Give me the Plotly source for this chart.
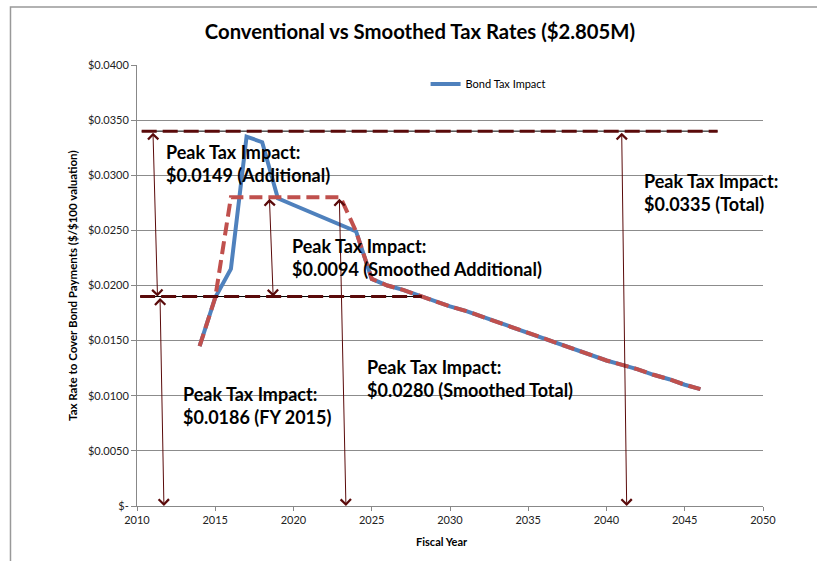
import plotly.graph_objects as go

# ---- data ----
years = list(range(2014, 2047))
conventional = [0.0145, 0.0189, 0.0215, 0.0335, 0.0330, 0.0279, 0.0273, 0.0267, 0.0261, 0.0255,
                0.0249, 0.0206, 0.0200, 0.0196, 0.0191, 0.0186, 0.0181, 0.0177, 0.0172, 0.0167,
                0.0162, 0.0157, 0.0152, 0.0147, 0.0142, 0.0137, 0.0132, 0.0128, 0.0124, 0.0119,
                0.0115, 0.0110, 0.0106]
smoothed = [0.0145, 0.0189, 0.0280, 0.0280, 0.0280, 0.0280, 0.0280, 0.0280, 0.0280, 0.0280,
            0.0249, 0.0206, 0.0200, 0.0196, 0.0191, 0.0186, 0.0181, 0.0177, 0.0172, 0.0167,
            0.0162, 0.0157, 0.0152, 0.0147, 0.0142, 0.0137, 0.0132, 0.0128, 0.0124, 0.0119,
            0.0115, 0.0110, 0.0106]

# horizontal peak reference lines: value, x-start, x-end
peak_values = [0.0340, 0.0190]
peak_x_start = [2010.3, 2010.2]
peak_x_end = [2047.1, 2028.2]

# double-headed arrows: (x1, y1, x2, y2)
arrow_x1 = [2011.02, 2011.47, 2018.46, 2022.93, 2040.97]
arrow_y1 = [0.0340, 0.0190, 0.0280, 0.0280, 0.0340]
arrow_x2 = [2011.31, 2011.72, 2018.70, 2023.35, 2041.29]
arrow_y2 = [0.0190, 0.0, 0.0190, 0.0, 0.0]

# text callouts
note_texts = ["Peak Tax Impact:<br>$0.0149 (Additional)",
              "Peak Tax Impact:<br>$0.0094 (Smoothed Additional)",
              "Peak Tax Impact:<br>$0.0335 (Total)",
              "Peak Tax Impact:<br>$0.0280 (Smoothed Total)",
              "Peak Tax Impact:<br>$0.0186 (FY 2015)"]
note_x = [2011.75, 2019.75, 2042.3, 2024.6, 2012.8]
note_y = [0.03110, 0.02255, 0.02846, 0.01156, 0.00913]

y_tickvals = [0, 0.005, 0.010, 0.015, 0.020, 0.025, 0.030, 0.035, 0.040]
y_ticktext = ["$-", "$0.0050", "$0.0100", "$0.0150", "$0.0200", "$0.0250", "$0.0300", "$0.0350", "$0.0400"]
x_tickvals = [2010, 2015, 2020, 2025, 2030, 2035, 2040, 2045, 2050]

FONT = "Lato, 'Open Sans', sans-serif"
MAROON = "#5a0a0a"

fig = go.Figure()
fig.add_trace(go.Scatter(x=years, y=conventional, mode="lines", name="Bond Tax Impact",
                         line=dict(color="#4f81bd", width=4), hoverinfo="skip"))
fig.add_trace(go.Scatter(x=years, y=smoothed, mode="lines", name="Smoothed", showlegend=False,
                         line=dict(color="#c0504d", width=4, dash="13px,6px"), hoverinfo="skip"))
for v, xs, xe in zip(peak_values, peak_x_start, peak_x_end):
    fig.add_trace(go.Scatter(x=[xs, xe], y=[v, v], mode="lines", showlegend=False,
                             line=dict(color="#000000", width=1), hoverinfo="skip"))
    fig.add_trace(go.Scatter(x=[xs, xe], y=[v, v], mode="lines", showlegend=False,
                             line=dict(color=MAROON, width=3, dash="15px,6px"), hoverinfo="skip"))

annotations = []
for x1, y1, x2, y2 in zip(arrow_x1, arrow_y1, arrow_x2, arrow_y2):
    annotations.append(dict(x=x2, y=y2, ax=x1, ay=y1, xref="x", yref="y", axref="x", ayref="y",
                            text="", showarrow=True, arrowhead=4, arrowside="end+start",
                            arrowsize=2, arrowwidth=1, arrowcolor=MAROON,
                            standoff=0, startstandoff=0))
for t, x, y in zip(note_texts, note_x, note_y):
    annotations.append(dict(x=x, y=y, xref="x", yref="y", text=t, showarrow=False,
                            xanchor="left", yanchor="middle", align="left",
                            font=dict(family=FONT, size=18, color="#000000", weight="bold")))
annotations.append(dict(x=-0.104, y=0.501, xref="paper", yref="paper", textangle=-90,
                        xanchor="center", yanchor="middle",
                        text="Tax Rate to Cover Bond Payments ($/$100 valuation)", showarrow=False,
                        font=dict(family=FONT, size=11.5, color="#000000", weight="bold")))
annotations.append(dict(x=0.487, y=-0.0794, xref="paper", yref="paper", text="Fiscal Year",
                        xanchor="center", yanchor="middle",
                        showarrow=False, font=dict(family=FONT, size=11, color="#000000", weight="bold")))

fig.update_layout(
    width=817, height=561,
    margin=dict(l=137, r=54, t=65, b=55),
    paper_bgcolor="white", plot_bgcolor="white",
    title=dict(text="Conventional vs Smoothed Tax Rates ($2.805M)", x=0.514, xref="container",
               y=1 - 32 / 561, yref="container", xanchor="center", yanchor="middle",
               font=dict(family=FONT, size=20.3, color="#000000", weight="bold")),
    showlegend=True,
    legend=dict(x=0.461, y=0.957, xanchor="left", yanchor="middle", bgcolor="rgba(0,0,0,0)",
                font=dict(family=FONT, size=11, color="#000000")),
    xaxis=dict(range=[2010, 2050], tickvals=x_tickvals, showgrid=False, zeroline=False,
               showline=True, linecolor="#888888", linewidth=1, ticks="outside", ticklen=4,
               tickcolor="#888888", tickfont=dict(family=FONT, size=11, color="#222222")),
    yaxis=dict(range=[0, 0.04], tickvals=y_tickvals, ticktext=y_ticktext, showgrid=True,
               gridcolor="#8c8c8c", gridwidth=1, zeroline=False, showline=True,
               linecolor="#888888", linewidth=1, ticks="outside", ticklen=5, tickcolor="#888888",
               tickfont=dict(family=FONT, size=11, color="#222222")),
    annotations=annotations,
    shapes=[dict(type="path", xref="paper", yref="paper",
                 path="M -0.2021,-0.13 L -0.2021,1.1315 L 1.1,1.1315",
                 line=dict(color="#999999", width=1.5))],
)

fig.write_html("out.html")
